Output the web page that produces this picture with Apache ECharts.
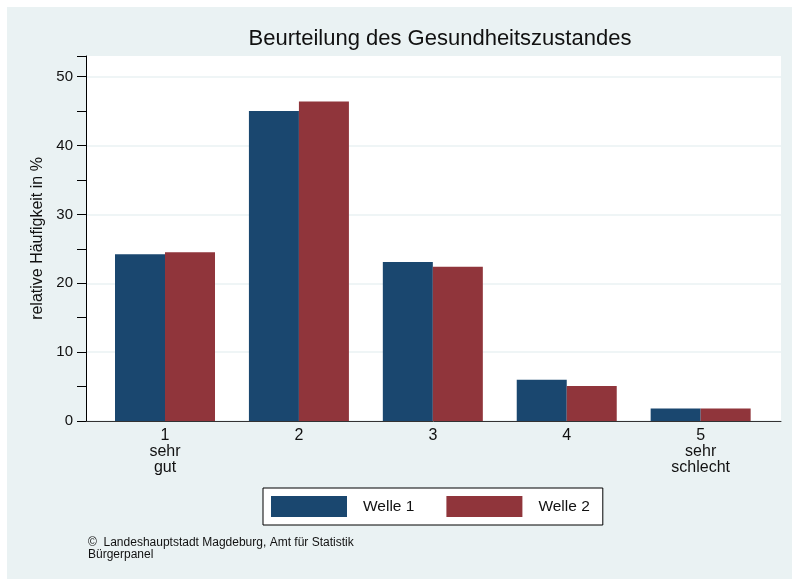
<!DOCTYPE html>
<html lang="de">
<head>
  <meta charset="UTF-8">
  <title>Beurteilung des Gesundheitszustandes</title>
  <style>
    * { margin: 0; padding: 0; }
    body { background: #fff; }
    #chart { width: 792px; height: 579px; }
  </style>
</head>
<body>
  <div id="chart"></div>
  <script src="https://cdn.jsdelivr.net/npm/echarts@6/dist/echarts.min.js"></script>
  <script>
    // Kategorien (Wert auf der x-Achse und Beschriftung)
    const positions = [1, 2, 3, 4, 5]
    const categoryLabels = ['1\nsehr\ngut', '2', '3', '4', '5\nsehr\nschlecht']
    const seriesNames = ['Welle 1', 'Welle 2']
    // relative Häufigkeit in %
    const welle1 = [24.2, 45.0, 23.1, 6.0, 1.8]
    const welle2 = [24.5, 46.4, 22.4, 5.1, 1.8]
    const yTicks = [0, 10, 20, 30, 40, 50]

    const font = '"Liberation Sans", Arial, Helvetica, sans-serif'
    const blue = '#1a476f'
    const red = '#90353b'

    function pairs(values) {
      return values.map((v, i) => [positions[i], v])
    }

    const chart = echarts.init(document.getElementById('chart'))
    chart.setOption({
      backgroundColor: '#fff',
      animation: false,
      textStyle: { fontFamily: font },
      graphic: [{
        type: 'rect',
        z: -100,
        silent: true,
        shape: { x: 7, y: 7, width: 785, height: 572 },
        style: { fill: '#eaf2f3' }
      }],
      title: [{
        text: 'Beurteilung des Gesundheitszustandes',
        left: 440,
        top: 28,
        textAlign: 'center',
        padding: 0,
        textStyle: { fontSize: 22, fontWeight: 'normal', color: '#111', fontFamily: font }
      }, {
        text: '©  Landeshauptstadt Magdeburg, Amt für Statistik\nBürgerpanel',
        left: 88,
        top: 537,
        padding: 0,
        textStyle: { fontSize: 12, fontWeight: 'normal', color: '#111', lineHeight: 12, fontFamily: font }
      }],
      legend: {
        data: seriesNames,
        left: 263,
        top: 488,
        orient: 'horizontal',
        icon: 'rect',
        itemWidth: 76,
        itemHeight: 21,
        itemGap: 32,
        padding: [8, 13, 8, 8],
        backgroundColor: '#fff',
        borderColor: '#000',
        borderWidth: 1,
        borderRadius: 0,
        textStyle: { fontSize: 15.5, color: '#111', padding: [0, 0, 0, 11], fontFamily: font }
      },
      grid: {
        left: 86,
        right: 11,
        top: 56,
        bottom: 158,
        show: true,
        backgroundColor: '#fff',
        borderWidth: 0
      },
      xAxis: {
        type: 'value',
        min: 0.41,
        max: 5.6,
        axisLine: { show: true, lineStyle: { color: '#333', width: 1 } },
        axisTick: { show: false },
        splitLine: { show: false },
        axisLabel: {
          customValues: positions,
          formatter: v => categoryLabels[positions.indexOf(v)] || '',
          fontSize: 16,
          lineHeight: 16,
          color: '#111',
          margin: 7
        }
      },
      yAxis: [{
        type: 'value',
        min: 0,
        max: 53,
        interval: 10,
        name: 'relative Häufigkeit in %',
        nameLocation: 'middle',
        nameGap: 36,
        nameTextStyle: { fontSize: 16, color: '#111' },
        axisLine: { show: true, lineStyle: { color: '#000', width: 1 } },
        axisTick: { show: true, length: 9, lineStyle: { color: '#000' }, customValues: yTicks },
        axisLabel: { fontSize: 15, color: '#111', margin: 13, customValues: yTicks },
        splitLine: { show: true, lineStyle: { color: '#eaf2f3', width: 1.5 } }
      }, {
        type: 'value',
        position: 'left',
        min: 0,
        max: 53,
        interval: 5,
        axisLine: { show: false },
        axisTick: { show: true, length: 9, lineStyle: { color: '#000' } },
        axisLabel: { show: false },
        splitLine: { show: false }
      }],
      series: [{
        name: seriesNames[0],
        type: 'bar',
        data: pairs(welle1),
        barWidth: 50,
        barGap: '0%',
        itemStyle: { color: blue }
      }, {
        name: seriesNames[1],
        type: 'bar',
        data: pairs(welle2),
        barWidth: 50,
        barGap: '0%',
        itemStyle: { color: red }
      }]
    })
  </script>
</body>
</html>
